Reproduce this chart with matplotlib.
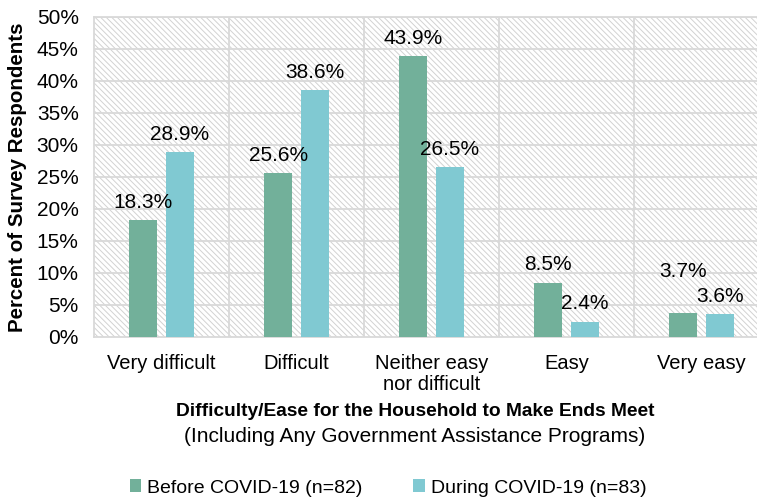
import numpy as np
import matplotlib.pyplot as plt
from matplotlib.patches import Rectangle

plt.rcParams['font.family'] = ['Liberation Sans', 'DejaVu Sans']
plt.rcParams['hatch.linewidth'] = 0.7

# Data
categories = ['Very difficult', 'Difficult', 'Neither easy\nnor difficult', 'Easy', 'Very easy']
before = [18.3, 25.6, 43.9, 8.5, 3.7]
during = [28.9, 38.6, 26.5, 2.4, 3.6]
labels = ['Before COVID-19 (n=82)', 'During COVID-19 (n=83)']

green = '#72b09a'
blue = '#80c9d2'
grid = '#d9d9d9'
fs = 15

fig = plt.figure(figsize=(7.57, 4.97), dpi=100)
ax = fig.add_axes([94 / 757, 1 - 337 / 497, 675 / 757, 320 / 497])

x = np.arange(len(categories))
w = 0.21
off = 0.135

# hatched background
bg = Rectangle((0, 0), 1, 1, transform=ax.transAxes, facecolor='white',
               edgecolor='#d2d2d2', hatch='\\' * 6, lw=0, zorder=0)
ax.add_patch(bg)

b1 = ax.bar(x - off, before, w, color=green, label=labels[0], zorder=3)
b2 = ax.bar(x + off, during, w, color=blue, label=labels[1], zorder=3)

# label nudges where the two labels of a pair would collide
extra = {(0, 4): 17}
for k, (bars, vals) in enumerate(((b1, before), (b2, during))):
    for i, (rect, v) in enumerate(zip(bars, vals)):
        ax.annotate(f'{v:.1f}%', (rect.get_x() + rect.get_width() / 2, v),
                    xytext=(0, 6 + extra.get((k, i), 0)), textcoords='offset points',
                    ha='center', va='bottom', fontsize=fs, zorder=4)

ax.set_xlim(-0.5, len(categories) - 0.5)
ax.set_ylim(0, 50)
ax.set_yticks(np.arange(0, 51, 5))
ax.set_yticklabels([f'{t}%' for t in range(0, 51, 5)], fontsize=fs)
ax.set_xticks(x)
ax.set_xticklabels(categories, fontsize=14.5, linespacing=1.15)
ax.tick_params(axis='y', length=0, pad=11)
ax.tick_params(axis='x', length=0, pad=12)

for yv in np.arange(5, 51, 5):
    ax.axhline(yv, color=grid, lw=1.3, zorder=1)
for xv in np.arange(0.5, len(categories) - 0.5, 1):
    ax.axvline(xv, color=grid, lw=1.3, zorder=1)
for s in ax.spines.values():
    s.set_color(grid)
    s.set_linewidth(1.3)

fig.text(18 / 757, 1 - 177 / 497, 'Percent of Survey Respondents', rotation=90,
         ha='center', va='center', fontsize=14.8, fontweight='bold')
fig.text(415 / 757, 1 - 412 / 497, 'Difficulty/Ease for the Household to Make Ends Meet',
         ha='center', va='center', fontsize=13.8, fontweight='bold')
fig.text(415 / 757, 1 - 437 / 497, '(Including Any Government Assistance Programs)',
         ha='center', va='center', fontsize=15)

fig.legend(handles=[b1, b2], loc='center', bbox_to_anchor=(388 / 757, 1 - 488 / 497),
           ncol=2, frameon=False, fontsize=14, handlelength=0.6, handleheight=0.6,
           handletextpad=0.3, columnspacing=2.6, borderpad=0)

fig.savefig('out.png', dpi=100)
